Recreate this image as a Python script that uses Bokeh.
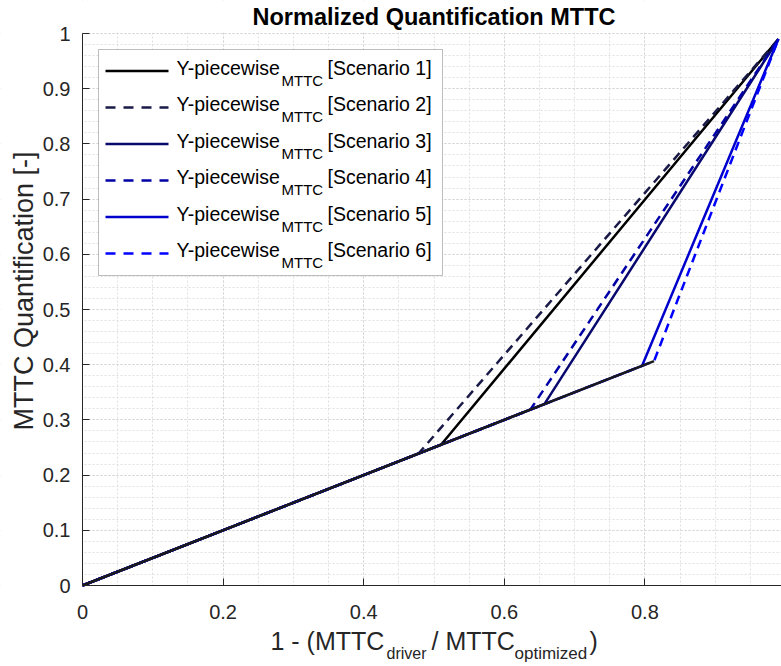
import math
from bokeh.plotting import figure
from bokeh.models import Range1d, FixedTicker, Label, BoxAnnotation, Arrow
from bokeh.embed import file_html
from bokeh.resources import INLINE

# ---- data ----
scenarios = ["Scenario 1", "Scenario 2", "Scenario 3", "Scenario 4", "Scenario 5", "Scenario 6"]
start_x = [0.0, 0.0, 0.0, 0.0, 0.0, 0.0]
start_y = [0.0, 0.0, 0.0, 0.0, 0.0, 0.0]
kink_x = [0.510, 0.478, 0.657, 0.637, 0.796, 0.813]
kink_y = [0.255, 0.239, 0.3285, 0.3185, 0.398, 0.4065]
end_x = [0.99, 0.99, 0.99, 0.99, 0.99, 0.99]
end_y = [0.99, 0.99, 0.99, 0.99, 0.99, 0.99]

x_ticks = [0, 0.2, 0.4, 0.6, 0.8, 1.0]
x_tick_labels = ["0", "0.2", "0.4", "0.6", "0.8", "1"]
y_ticks = [0, 0.1, 0.2, 0.3, 0.4, 0.5, 0.6, 0.7, 0.8, 0.9, 1.0]
y_tick_labels = ["0", "0.1", "0.2", "0.3", "0.4", "0.5", "0.6", "0.7", "0.8", "0.9", "1"]
x_minor = [round(i * 0.05, 2) for i in range(21)]
y_minor = [round(i * 0.02, 2) for i in range(51)]

# ---- styles / layout ----
colors = ["#000000", "#1a1a48", "#08086e", "#0000a6", "#0000cc", "#0000ff"]
dashes = ["solid", "9 6", "solid", "9 6", "solid", "9 6"]
FONT = "Liberation Sans"
AX = "#262626"
W, H = 781, 666
FL, FB, FT = 82, 585, 33          # plot-box left / bottom / top in canvas pixels
XPX, YPX = 703.0, 552.0           # pixels per data unit


def sx(X):
    return X


def sy(Y):
    return H - Y


p = figure(width=W, height=H,
           x_range=Range1d(-FL / XPX, (W - FL) / XPX),
           y_range=Range1d(-(H - FB) / YPX, FB / YPX),
           output_backend="svg", toolbar_location=None,
           min_border_left=0, min_border_right=0, min_border_top=0, min_border_bottom=0)
p.title = None
p.outline_line_color = None
p.background_fill_color = "white"

p.xaxis.fixed_location = 0
p.yaxis.fixed_location = 0
p.xaxis.bounds = (0, (W - FL) / XPX)
p.yaxis.bounds = (0, 1)
p.xaxis.ticker = FixedTicker(ticks=x_ticks, minor_ticks=x_minor)
p.yaxis.ticker = FixedTicker(ticks=y_ticks, minor_ticks=y_minor)
p.xaxis.major_label_overrides = {t: l for t, l in zip(x_ticks, x_tick_labels)}
p.yaxis.major_label_overrides = {t: l for t, l in zip(y_ticks, y_tick_labels)}

for ax in (p.xaxis, p.yaxis):
    ax.axis_line_color = AX
    ax.axis_line_width = 1
    ax.major_tick_line_color = AX
    ax.major_tick_in = 7
    ax.major_tick_out = 0
    ax.minor_tick_line_color = None
    ax.major_label_text_font = FONT
    ax.major_label_text_font_size = "20px"
    ax.major_label_text_color = AX
p.xaxis.major_label_standoff = 15
p.yaxis.major_label_standoff = 8

for g in (p.xgrid, p.ygrid):
    g.grid_line_color = "#d4d4d4"
    g.grid_line_dash = "2 2"
    g.grid_line_width = 1
    g.minor_grid_line_color = "#e0e0e0"
    g.minor_grid_line_dash = "2 2"
    g.minor_grid_line_width = 1

# white bands hiding grid lines outside the plot box
for kw in (dict(left=0, right=W, bottom=sy(FT - 1), top=H),
           dict(left=0, right=FL - 0.5, bottom=0, top=H),
           dict(left=0, right=W, bottom=0, top=sy(FB + 0.5))):
    p.add_layout(BoxAnnotation(left_units="screen", right_units="screen",
                               top_units="screen", bottom_units="screen",
                               fill_color="white", fill_alpha=1.0, line_color=None,
                               level="underlay", **kw))

# ---- piecewise lines ----
for i in range(len(scenarios)):
    p.line([start_x[i], kink_x[i], end_x[i]], [start_y[i], kink_y[i], end_y[i]],
           line_color=colors[i], line_width=2.5, line_dash=dashes[i])

# common lower segment (black, drawn over all)
imax = kink_x.index(max(kink_x))
p.line([start_x[imax], kink_x[imax]], [start_y[imax], kink_y[imax]],
       line_color="#1a1a1a", line_width=2.5)


def text(txt, X, Y, size, color=AX, align="left", style="normal", angle=0.0):
    p.add_layout(Label(x=sx(X), y=sy(Y), x_units="screen", y_units="screen", text=txt,
                       angle=angle, text_font=FONT, text_font_size=size,
                       text_font_style=style, text_color=color,
                       text_align=align, text_baseline="middle"))


# ---- title ----
text("Normalized Quantification MTTC", 433.5, 16.5, "23.5px", color="black",
     align="center", style="bold")

# ---- y axis label ----
text("MTTC Quantification [-]", 23, 290.5, "27px", align="center", angle=math.pi / 2)

# ---- x axis label with subscripts ----
xl_parts = [("1 - (MTTC", 270, 640, "25px"), ("driver", 386, 653, "16px"),
            ("/ MTTC", 431, 640, "25px"), ("optimized", 514, 653, "17px"),
            (")", 589, 640, "25px")]
for txt, X, Y, fs in xl_parts:
    text(txt, X, Y, fs)

# ---- legend ----
p.add_layout(BoxAnnotation(left=sx(98), right=sx(442), top=sy(49), bottom=sy(275),
                           left_units="screen", right_units="screen",
                           top_units="screen", bottom_units="screen",
                           fill_color="white", fill_alpha=1.0,
                           line_color=AX, line_width=1, level="annotation"))
for i, name in enumerate(scenarios):
    Y = 70.5 + 36.5 * i
    p.add_layout(Arrow(start=None, end=None, x_start=sx(105), y_start=sy(Y),
                       x_end=sx(168), y_end=sy(Y), start_units="screen", end_units="screen",
                       line_color=colors[i], line_width=2.5,
                       line_dash=("10 8" if dashes[i] != "solid" else "solid")))
    text("Y-piecewise", 176, Y - 3.3, "19.5px", color="black")
    text("MTTC", 281, Y + 9.1, "15px", color="black")
    text("[" + name + "]", 327, Y - 3.3, "19.5px", color="black")

open("out.html", "w").write(file_html(p, INLINE))
